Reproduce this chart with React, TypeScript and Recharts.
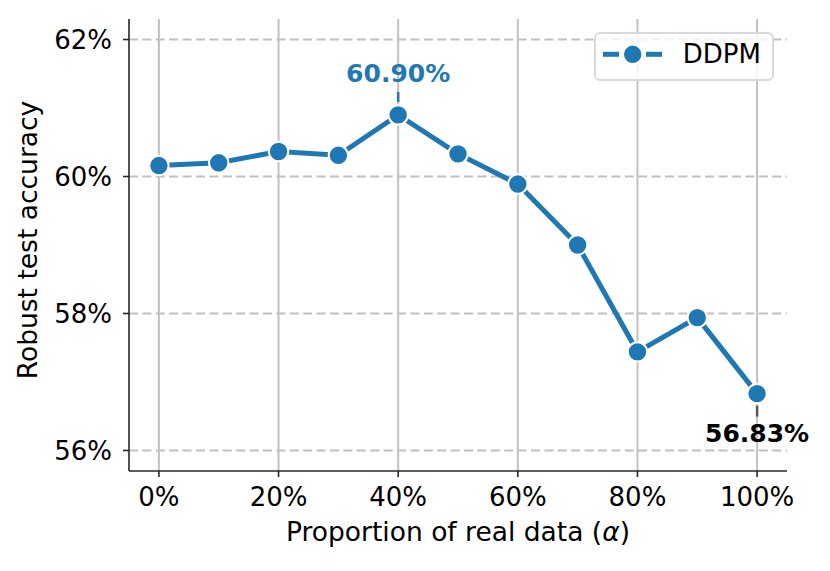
import React from 'react';
import { LineChart, Line, XAxis, YAxis, CartesianGrid, Legend, LabelList } from 'recharts';

const proportions = [0, 10, 20, 30, 40, 50, 60, 70, 80, 90, 100];
const ddpm = [60.16, 60.2, 60.365, 60.31, 60.9, 60.33, 59.89, 59.0, 57.44, 57.94, 56.83];
const xTicks = [0, 20, 40, 60, 80, 100];
const yTicks = [56, 58, 60, 62];
const seriesName = 'DDPM';
const xLabel = 'Proportion of real data (';
const yLabel = 'Robust test accuracy';
const annotated: Record<number, { text: string; color: string; lineColor: string; above: boolean }> = {
  4: { text: '60.90%', color: '#1f77b4', lineColor: '#1f77b4', above: true },
  10: { text: '56.83%', color: '#000000', lineColor: '#555555', above: false },
};

const data = proportions.map((p, i) => ({ p, v: ddpm[i] }));

const BLUE = '#1f77b4';
const FONT = 'DejaVu Sans';

const AnnotationLabel = (props: any) => {
  const { x, y, index } = props;
  const a = annotated[index];
  if (!a) return null;
  if (a.above) {
    return (
      <g>
        <line x1={x} x2={x} y1={y - 23} y2={y - 13} stroke={a.lineColor} strokeWidth={2.5} />
        <text x={x} y={y - 33} textAnchor="middle" fontFamily={FONT} fontWeight="bold" fontSize={25} fill={a.color}>
          {a.text}
        </text>
      </g>
    );
  }
  return (
    <g>
      <line x1={x} x2={x} y1={y + 12} y2={y + 23} stroke={a.lineColor} strokeWidth={2.5} />
      <text x={x} y={y + 48.7} textAnchor="middle" fontFamily={FONT} fontWeight="bold" fontSize={25} fill={a.color}>
        {a.text}
      </text>
    </g>
  );
};

const LegendBox = () => (
  <svg width={180} height={49} style={{ display: 'block' }}>
    <rect x={1} y={1} width={178} height={47} rx={5} ry={5} fill="#ffffff" fillOpacity={0.8} stroke="#d9d9d9" strokeWidth={2} />
    <line x1={9} x2={25} y1={22.3} y2={22.3} stroke={BLUE} strokeWidth={5} />
    <line x1={52} x2={68} y1={22.3} y2={22.3} stroke={BLUE} strokeWidth={5} />
    <circle cx={38.7} cy={22.3} r={9.7} fill={BLUE} stroke="#ffffff" strokeWidth={2} />
    <text x={88.7} y={31.3} fontFamily={FONT} fontSize={26} fill="#000">{seriesName}</text>
  </svg>
);

export default function App() {
  return (
    <div style={{ position: 'absolute', left: 0, top: 0, width: 830, height: 571, background: '#fff' }}>
      <LineChart width={830} height={571} data={data} margin={{ top: 19, right: 43, bottom: 0, left: 0 }}>
        <CartesianGrid horizontal={false} vertical={true} syncWithTicks stroke="#c0c0c0" strokeWidth={2} />
        <CartesianGrid horizontal={true} vertical={false} syncWithTicks stroke="#c0c0c0" strokeWidth={2} strokeDasharray="9 4.4" />
        <XAxis
          dataKey="p"
          type="number"
          domain={[-5, 105]}
          ticks={xTicks}
          tickFormatter={(v: number) => `${v}%`}
          height={100}
          tickSize={6}
          tickMargin={11}
          stroke="#262626"
          strokeWidth={1.6}
          tick={{ fontFamily: FONT, fontSize: 26, fill: '#000' }}
          tickLine={{ stroke: '#262626', strokeWidth: 1.6 }}
          label={(p: any) => {
            const vb = p.viewBox;
            return (
              <text x={vb.x + vb.width / 2} y={vb.y + 70} textAnchor="middle" fontFamily={FONT} fontSize={26.5} fill="#000">
                {xLabel}
                <tspan fontStyle="italic">α</tspan>)
              </text>
            );
          }}
        />
        <YAxis
          type="number"
          domain={[55.7, 62.3]}
          ticks={yTicks}
          allowDataOverflow
          tickFormatter={(v: number) => `${v}%`}
          width={129}
          tickSize={6}
          tickMargin={11}
          stroke="#262626"
          strokeWidth={1.6}
          tick={{ fontFamily: FONT, fontSize: 26, fill: '#000' }}
          tickLine={{ stroke: '#262626', strokeWidth: 1.6 }}
          label={(p: any) => {
            const vb = p.viewBox;
            const cx = vb.x + 37;
            const cy = vb.y + vb.height / 2 - 5;
            return (
              <text x={cx} y={cy} transform={`rotate(-90, ${cx}, ${cy})`} textAnchor="middle" fontFamily={FONT} fontSize={26.5} fill="#000">
                {yLabel}
              </text>
            );
          }}
        />
        <Legend
          layout="vertical"
          align="center"
          verticalAlign="middle"
          content={() => <LegendBox />}
          wrapperStyle={{ left: 594, top: 32, bottom: 'auto', right: 'auto', width: 180, height: 49 }}
        />
        <Line
          type="linear"
          dataKey="v"
          name={seriesName}
          stroke={BLUE}
          strokeWidth={5}
          isAnimationActive={false}
          dot={{ r: 9.7, fill: BLUE, stroke: '#ffffff', strokeWidth: 2 }}
          activeDot={false}
        >
          <LabelList dataKey="v" content={<AnnotationLabel />} />
        </Line>
      </LineChart>
    </div>
  );
}
